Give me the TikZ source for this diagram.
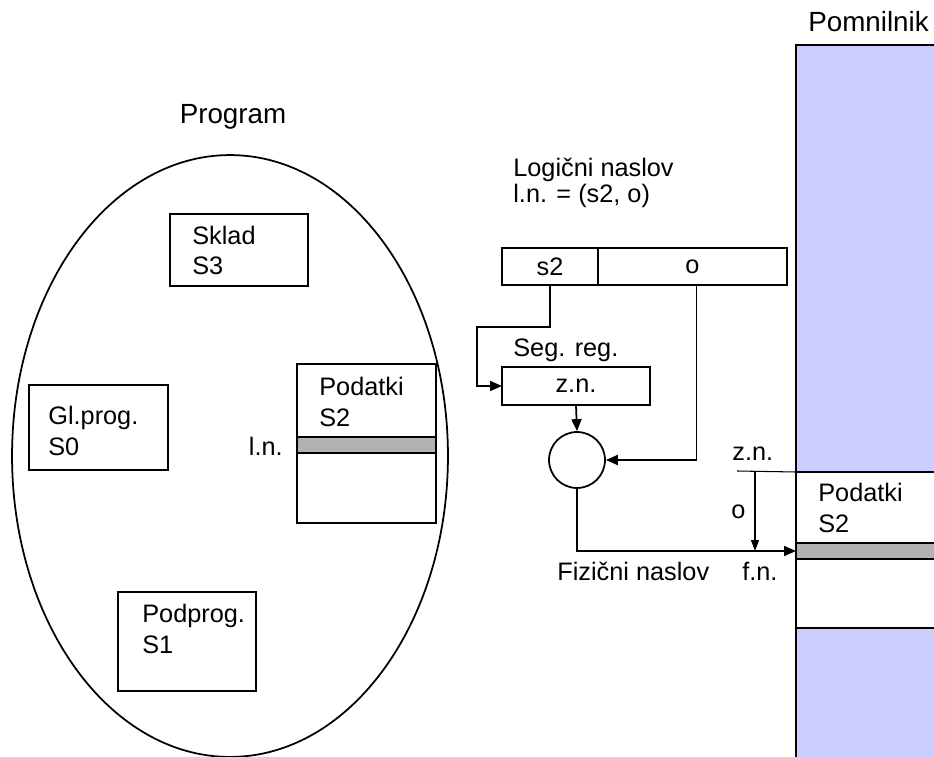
\documentclass[tikz,border=0pt]{standalone}
\usepackage{fontspec}
\setmainfont{Liberation Sans}
\usepackage{tikz}
\usetikzlibrary{shapes.geometric, arrows.meta, positioning, calc}
\definecolor{memblue}{RGB}{204, 204, 255}
\definecolor{bandgray}{RGB}{178, 178, 178}
\newcommand{\lblfont}{\fontsize{14.4}{17.6}\selectfont}
\newcommand{\titlefont}{\fontsize{15.8}{18}\selectfont}
\tikzstyle{segbox} = [rectangle, draw, line width=1pt, anchor=north west, inner sep=0pt, outer sep=0pt]
\tikzstyle{band} = [segbox, fill=bandgray, minimum height=0.32cm]
\tikzstyle{field} = [segbox, minimum height=0.74cm, font=\lblfont]
\tikzstyle{lbl} = [anchor=base west, align=left, inner sep=0pt, font=\lblfont]
\tikzstyle{title} = [anchor=base west, inner sep=0pt, font=\titlefont]
\tikzstyle{arrow} = [-{Triangle[length=0.24cm, width=0.2cm]}, line width=1pt]
\tikzstyle{thinarrow} = [-{Triangle[length=0.22cm, width=0.16cm]}, line width=0.6pt]

\begin{document}
\begin{tikzpicture}[x=0.02cm, y=-0.02cm]
    \useasboundingbox (0,0) rectangle (934,757);

    % Program
    \node[ellipse, draw, line width=1pt, minimum width=8.72cm, minimum height=12.04cm, inner sep=0pt] (prog) at (230,456) {};
    \node[title, anchor=base] (progtxt) at (233,124) {Program};

    % Segments of the program
    \node[segbox, minimum width=2.76cm, minimum height=1.44cm] (sklad) at (170,214) {};
    \node[lbl] (skladtxt) at (192,275) {Sklad\\S3};
    \node[segbox, minimum width=2.78cm, minimum height=1.70cm] (glprog) at (29,385) {};
    \node[lbl] (glprogtxt) at (48,455) {Gl.prog.\\S0};
    \node[segbox, minimum width=2.78cm, minimum height=3.18cm] (podatki) at (297,364) {};
    \node[lbl] (podatkitxt) at (319,426) {Podatki\\S2};
    \node[band, minimum width=2.78cm] (pband) at (297,437) {};
    \node[lbl, anchor=base east] (lntxt) at (283,455) {l.n.};
    \node[segbox, minimum width=2.76cm, minimum height=1.98cm] (podprog) at (118,592) {};
    \node[lbl] (podprogtxt) at (142,653) {Podprog.\\S1};

    % Memory
    \node[segbox, fill=memblue, minimum width=2.88cm, minimum height=14.5cm] (mem) at (796,45) {};
    \node[title] (memtxt) at (808,32) {Pomnilnik};
    \node[segbox, fill=white, minimum width=2.8cm, minimum height=3.12cm] (memseg) at (796,472) {};
    \node[lbl] (memsegtxt) at (818,532) {Podatki\\S2};
    \node[band, minimum width=2.8cm] (memband) at (796,543) {};

    % Logical address
    \node[lbl] (logtxt) at (513,203) {Logični naslov\\[-0.08cm]l.n. = (s2, o)};
    \node[field, minimum width=1.92cm] (s2) at (502,248) {s2};
    \node[field, minimum width=3.78cm] (o) at (598,248) {o};

    % Segment register and adder
    \node[lbl] (segregtxt) at (513,357) {Seg. reg.};
    \node[field, minimum width=2.96cm, minimum height=0.76cm] (zn) at (502,367) {z.n.};
    \node[draw, circle, line width=1pt, minimum size=1.12cm, inner sep=0pt] (adder) at (577,460) {};

    % Physical address
    \node[lbl] (fiztxt) at (557,580) {Fizični naslov};
    \node[lbl] (fntxt) at (742,580) {f.n.};
    \node[lbl] (zntxt) at (732,460) {z.n.};
    \node[lbl] (otxt) at (731,518) {o};
    \coordinate (zntick) at (737,471);
    \coordinate (offtop) at (755,471);

    % Arrows
    \draw[arrow] (s2.south) -- ++(0,42) -| ($(zn.west)+(-25,0)$) -- (zn.west);
    \draw[arrow] (zn.south) -- (adder.north);
    \draw[arrow] ($(o.south)+(4,0)$) |- (adder.east);
    \draw[arrow] (adder.south) |- (memband.west);
    \draw[line width=0.6pt] (zntick) -- (memseg.north west);
    \draw[thinarrow] (offtop) -- (offtop |- memband.west);
\end{tikzpicture}
\end{document}
